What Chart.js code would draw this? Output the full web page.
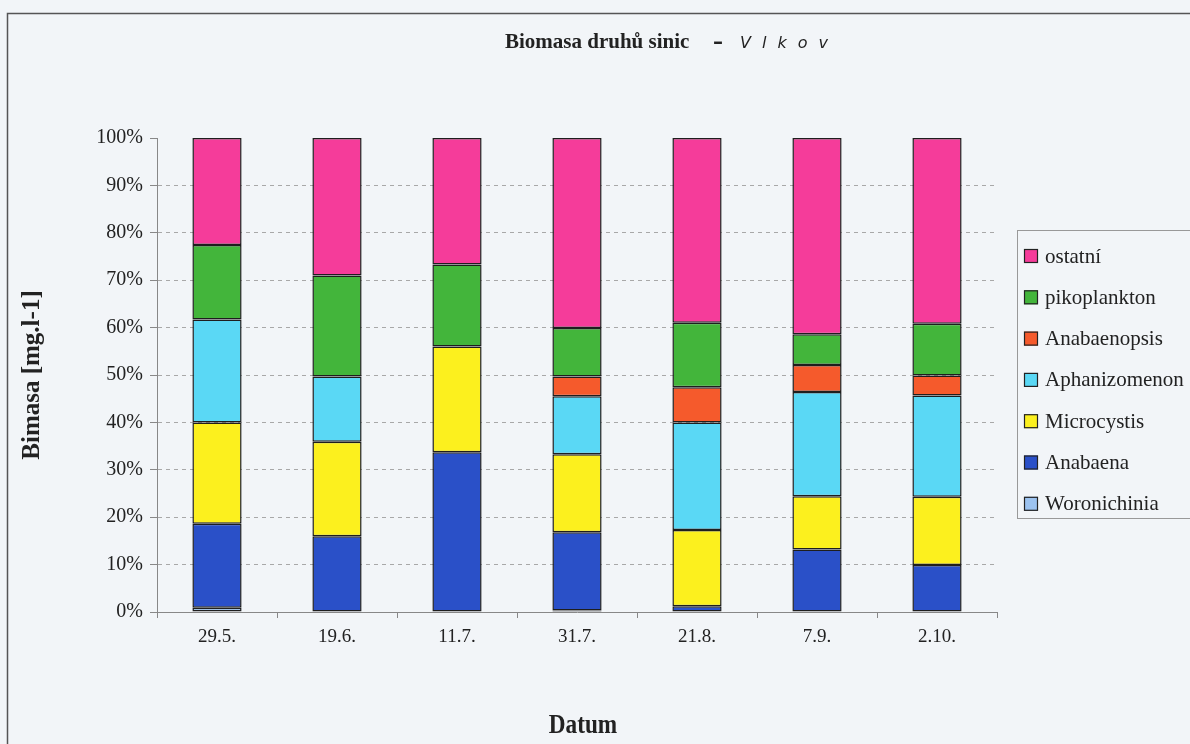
<!DOCTYPE html>
<html>
<head>
<meta charset="utf-8">
<script src="https://cdn.jsdelivr.net/npm/chart.js@4.4.1/dist/chart.umd.min.js"></script>
<style>
html,body{margin:0;padding:0;background:#f2f5f8;}
#wrap{width:1190px;height:744px;position:relative;}
</style>
</head>
<body>
<div id="wrap"><canvas id="c" width="1190" height="744"></canvas></div>
<script>
const categories = ['29.5.', '19.6.', '11.7.', '31.7.', '21.8.', '7.9.', '2.10.'];
const woronichinia = [0.9, 0, 0, 0.3, 0, 0, 0];
const anabaena = [17.7, 16.0, 33.7, 16.5, 1.2, 13.2, 9.9];
const microcystis = [21.4, 19.9, 22.3, 16.5, 16.1, 11.2, 14.4];
const aphanizomenon = [21.7, 13.8, 0, 12.2, 22.7, 22.0, 21.4];
const anabaenopsis = [0, 0, 0, 4.2, 7.4, 5.7, 4.2];
const pikoplankton = [15.7, 21.3, 17.3, 10.2, 13.6, 6.5, 10.9];
const ostatni = [22.6, 29.0, 26.7, 40.1, 39.0, 41.4, 39.2];

const seriesNames = ['Woronichinia', 'Anabaena', 'Microcystis', 'Aphanizomenon', 'Anabaenopsis', 'pikoplankton', 'ostatní'];
const seriesValues = [woronichinia, anabaena, microcystis, aphanizomenon, anabaenopsis, pikoplankton, ostatni];
const seriesColors = ['#9cc3f0', '#2a50c8', '#fcf01e', '#5ad8f5', '#f55a2c', '#43b53b', '#f53c9a'];

const titleMain = 'Biomasa druhů sinic';
const titleSite = 'Vlkov';
const yTitle = 'Bimasa [mg.l-1]';
const xTitle = 'Datum';

const SERIF = "'Liberation Serif', 'Times New Roman', serif";
Chart.defaults.font.family = SERIF;
Chart.defaults.color = '#222';

const decor = {
  id: 'decor',
  beforeDraw(chart) {
    const c = chart.ctx;
    c.save();
    c.fillStyle = '#f2f5f8';
    c.fillRect(0, 0, chart.width, chart.height);
    c.strokeStyle = '#555';
    c.lineWidth = 1.5;
    c.strokeRect(7.5, 13.5, 1400, 900);
    c.restore();
  },
  afterDraw(chart) {
    const c = chart.ctx;
    c.save();
    c.fillStyle = '#222';
    c.textBaseline = 'alphabetic';
    // title
    c.font = 'bold 21px ' + SERIF;
    c.textAlign = 'left';
    c.fillText(titleMain, 505, 48);
    c.font = 'bold 20px "DejaVu Sans", sans-serif';
    c.fillText('–', 713, 48);
    c.font = 'italic 16px "DejaVu Sans", sans-serif';
    try { c.letterSpacing = '11px'; } catch (e) {}
    c.fillText(titleSite, 740, 48);
    try { c.letterSpacing = '0px'; } catch (e) {}
    // x axis title (slightly condensed, as in the original)
    c.save();
    c.font = 'bold 27px ' + SERIF;
    c.textAlign = 'center';
    c.translate(583, 733);
    c.scale(0.86, 1);
    c.fillText(xTitle, 0, 0);
    c.restore();
    // y axis title
    c.save();
    c.font = 'bold 25px ' + SERIF;
    c.textAlign = 'center';
    c.translate(33, 375);
    c.rotate(-Math.PI / 2);
    c.textBaseline = 'middle';
    c.fillText(yTitle, 0, 0);
    c.restore();
    // legend
    c.strokeStyle = '#999';
    c.lineWidth = 1;
    c.strokeRect(1017.5, 230.5, 200, 288);
    c.font = '21px ' + SERIF;
    c.textAlign = 'left';
    c.textBaseline = 'middle';
    const ds = chart.data.datasets;
    for (let k = 0; k < ds.length; k++) {
      const d = ds[ds.length - 1 - k];
      const yc = 256 + k * 41.3;
      c.fillStyle = d.backgroundColor;
      c.fillRect(1024, yc - 7, 14, 14);
      c.strokeStyle = '#222';
      c.lineWidth = 1.2;
      c.strokeRect(1024.5, yc - 6.5, 13, 13);
      c.fillStyle = '#222';
      c.fillText(d.label, 1045, yc + 1);
    }
    c.restore();
  }
};

const datasets = seriesNames.map((name, i) => ({
  label: name,
  data: seriesValues[i],
  backgroundColor: seriesColors[i],
  borderColor: '#1e1e1e',
  borderWidth: ctx => (ctx.raw > 0 ? 1.5 : 0),
  borderSkipped: false,
  inflateAmount: 0,
  barPercentage: 0.41,
  categoryPercentage: 1.0
}));

new Chart(document.getElementById('c'), {
  type: 'bar',
  data: { labels: categories, datasets },
  plugins: [decor],
  options: {
    responsive: false,
    animation: false,
    layout: { padding: { left: 0, right: 193, top: 138, bottom: 0 } },
    plugins: { legend: { display: false }, title: { display: false }, tooltip: { enabled: false } },
    scales: {
      x: {
        stacked: true,
        grid: { drawOnChartArea: false, offset: true, tickLength: 6, color: '#888', tickColor: '#888' },
        border: { color: '#888', width: 1 },
        ticks: { padding: 8, font: { size: 19 }, color: '#222', maxRotation: 0 },
        afterFit(s) { s.height = 132; }
      },
      y: {
        stacked: true,
        min: 0,
        max: 100,
        ticks: { stepSize: 10, callback: v => v + '%', padding: 7, font: { size: 20 }, color: '#222' },
        grid: {
          color: ctx => (ctx.tick && (ctx.tick.value === 100 || ctx.tick.value === 0)) ? 'rgba(0,0,0,0)' : '#a8a8a8',
          tickColor: '#888',
          tickLength: 7,
          tickBorderDash: [],
          lineWidth: 1
        },
        border: { color: '#888', width: 1, dash: [4, 4] },
        afterFit(s) { s.width = 157; }
      }
    }
  }
});
</script>
</body>
</html>
